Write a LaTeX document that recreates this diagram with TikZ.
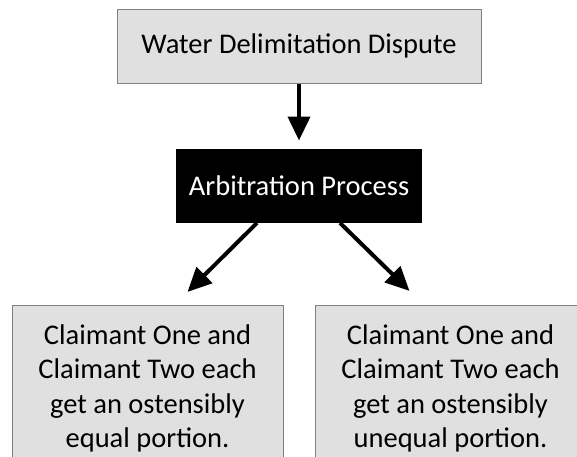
\documentclass[tikz,border=0pt]{standalone}
\usepackage{fontspec}
\setmainfont{Carlito}
\usepackage{tikz}
\usetikzlibrary{arrows.meta, positioning}
\definecolor{boxgray}{RGB}{224,224,224}
\definecolor{edgegray}{RGB}{128,128,128}

\begin{document}
\begin{tikzpicture}[x=1pt, y=-1pt, node distance=65pt,
  block/.style={draw=edgegray, line width=1pt, fill=boxgray, align=center,
                font=\fontsize{28.5}{34.5}\selectfont},
  dark/.style={fill=black, text=white, minimum width=246pt, minimum height=74pt,
               font=\fontsize{28.5}{34.5}\selectfont},
  arrow/.style={-{Triangle[length=24pt, width=22pt]}, line width=4pt}]

  \clip (0,0) rectangle (577,456);

  \node[block, minimum width=364pt, minimum height=74pt] (dispute) at (299,46)
       {Water Delimitation Dispute};
  \node[dark, below=of dispute] (arbitration) {Arbitration Process};
  \node[block, minimum width=271pt, minimum height=166pt,
        below=82pt of arbitration, xshift=-151.5pt] (equal)
       {Claimant One and\\Claimant Two each\\get an ostensibly\\equal portion.};
  \node[block, minimum width=271pt, minimum height=166pt,
        below=82pt of arbitration, xshift=151.5pt] (unequal)
       {Claimant One and\\Claimant Two each\\get an ostensibly\\unequal portion.};

  \draw[arrow] (dispute.south) -- ([yshift=8pt]arbitration.north);
  \draw[arrow] ([xshift=-42pt]arbitration.south) -- ([xshift=40pt, yshift=13pt]equal.north);
  \draw[arrow] ([xshift=41pt]arbitration.south) -- ([xshift=-41pt, yshift=14pt]unequal.north);
\end{tikzpicture}
\end{document}
